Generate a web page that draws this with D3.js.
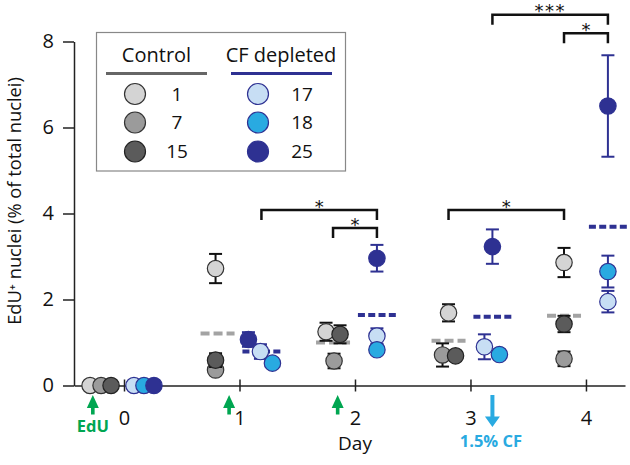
<!DOCTYPE html>
<html>
<head>
<meta charset="utf-8">
<script src="https://cdn.jsdelivr.net/npm/d3@7"></script>
<style>
body { margin: 0; background: #fff; }
svg { display: block; }
text { font-family: "Open Sans", sans-serif; }
</style>
</head>
<body>
<div id="chart"></div>
<script>
/////////////////////////////////////////////////////////////////////
///////////////////////////// data //////////////////////////////////
/////////////////////////////////////////////////////////////////////
var days = [0, 1, 2, 3, 4];
var yTicks = [0, 2, 4, 6, 8];

var controlNames = ["1", "7", "15"];
var cfNames = ["17", "18", "25"];

var ctrl1 = [0, 2.72, 1.25, 1.69, 2.86];
var ctrl1Err = [0, 0.34, 0.21, 0.20, 0.34];
var ctrl7 = [0, 0.36, 0.57, 0.71, 0.62];
var ctrl7Err = [0, 0.05, 0.17, 0.27, 0.17];
var ctrl15 = [0, 0.59, 1.19, 0.69, 1.43];
var ctrl15Err = [0, 0.16, 0.21, 0.08, 0.19];

var cf17 = [0, 0.79, 1.15, 0.90, 1.95];
var cf17Err = [0, 0.17, 0.18, 0.29, 0.25];
var cf18 = [0, 0.52, 0.83, 0.72, 2.65];
var cf18Err = [0, 0.05, 0.05, 0.05, 0.37];
var cf25 = [0, 1.07, 2.96, 3.23, 6.50];
var cf25Err = [0, 0.17, 0.31, 0.40, 1.18];

var ctrlMean = [null, 1.21, 1.00, 1.04, 1.62];
var cfMean = [null, 0.79, 1.64, 1.60, 3.69];

// significance: group/day pairs, bracket level (y units), label
var sigFromGroup = ["cf", "ctrl", "ctrl", "cf", "ctrl"];
var sigFromDay = [1, 2, 3, 3, 4];
var sigToGroup = ["cf", "cf", "ctrl", "cf", "cf"];
var sigToDay = [2, 2, 4, 4, 4];
var sigLevel = [4.08, 3.66, 4.08, 8.62, 8.19];
var sigLabels = ["*", "*", "*", "***", "*"];

// treatment events (days)
var eduDays = [-0.27, 0.91, 1.85];
var cfDay = 3.19;

/////////////////////////////////////////////////////////////////////
///////////////////////////// layout ////////////////////////////////
/////////////////////////////////////////////////////////////////////
var wdim = 630, hdim = 465;
var navy = "#2e3192";
var r = 8.2;
var groupOff = { ctrl: -0.19, cf: 0.19 };
// small horizontal nudges (px) per series per day, so points don't hide each other
var nudge = {
  "1":  [-12, -2, -7,  0, 0],
  "7":  [ -1, -2,  1, -6, 0],
  "15": [  9, -2,  7,  7, 0],
  "17": [-12, -1,  0, -8, 0],
  "18": [ -2, 11,  0,  7, 0],
  "25": [  8,-13,  0,  0, 0]
};

var series = [
  { name: "1",  group: "ctrl", vals: ctrl1,  err: ctrl1Err,  fill: "#d4d4d4", stroke: "#333", bar: "#111" },
  { name: "7",  group: "ctrl", vals: ctrl7,  err: ctrl7Err,  fill: "#9b9b9b", stroke: "#333", bar: "#111" },
  { name: "15", group: "ctrl", vals: ctrl15, err: ctrl15Err, fill: "#5b5b5b", stroke: "#222", bar: "#111" },
  { name: "17", group: "cf",   vals: cf17,   err: cf17Err,   fill: "#c7def4", stroke: navy,   bar: navy },
  { name: "18", group: "cf",   vals: cf18,   err: cf18Err,   fill: "#29aae1", stroke: navy,   bar: navy },
  { name: "25", group: "cf",   vals: cf25,   err: cf25Err,   fill: navy,      stroke: navy,   bar: navy }
];

var x = d3.scaleLinear().domain([-0.433, 4.338]).range([74, 625]);
var y = d3.scaleLinear().domain([0, 8]).range([385.5, 41.5]);

var svg = d3.select("#chart").append("svg")
  .attr("width", wdim)
  .attr("height", hdim);

function groupX(g, d) { return x(d + groupOff[g]); }

/////////////////////////////////////////////////////////////////////
///////////////////////////// axes //////////////////////////////////
/////////////////////////////////////////////////////////////////////
function draw_axes() {
  var ya = svg.append("g")
    .attr("transform", "translate(" + x.range()[0] + ",0)")
    .call(d3.axisLeft(y).tickValues(yTicks).tickFormat(d3.format("d"))
      .tickSize(11).tickSizeOuter(0).tickPadding(9));
  ya.selectAll("text").style("font-size", "20px").attr("fill", "#111");

  var xa = svg.append("g")
    .attr("transform", "translate(0," + y(0) + ")")
    .call(d3.axisBottom(x).tickValues(days).tickFormat(d3.format("d"))
      .tickSize(6).tickSizeOuter(0).tickPadding(19));
  xa.selectAll(".tick line").attr("y1", -6);
  xa.selectAll("text").style("font-size", "20px").attr("fill", "#111");

  svg.selectAll(".domain, .tick line").attr("stroke", "#222").attr("stroke-width", 1.5);

  svg.append("text")
    .attr("transform", "translate(21," + 201 + ") rotate(-90)")
    .attr("text-anchor", "middle")
    .style("font-size", "18.3px")
    .attr("fill", "#111")
    .text("EdU⁺ nuclei (% of total nuclei)");

  svg.append("text")
    .attr("x", x(2))
    .attr("y", 450)
    .attr("text-anchor", "middle")
    .style("font-size", "19px")
    .attr("fill", "#111")
    .text("Day");
}

/////////////////////////////////////////////////////////////////////
///////////////////////////// means /////////////////////////////////
/////////////////////////////////////////////////////////////////////
function draw_means() {
  var defs = [
    { g: "ctrl", vals: ctrlMean, col: "#a3a3a3", w: 34, dash: "9,4" },
    { g: "cf", vals: cfMean, col: navy, w: 38, dash: "7,3.3" }
  ];
  defs.forEach(function(m) {
    svg.selectAll(null)
      .data(days.filter(function(d) { return m.vals[d] != null; }))
      .enter().append("line")
      .attr("x1", function(d) { return groupX(m.g, d) - m.w / 2; })
      .attr("x2", function(d) { return groupX(m.g, d) + m.w / 2; })
      .attr("y1", function(d) { return y(m.vals[d]); })
      .attr("y2", function(d) { return y(m.vals[d]); })
      .attr("stroke", m.col)
      .attr("stroke-width", 4)
      .attr("stroke-dasharray", m.dash);
  });
}

/////////////////////////////////////////////////////////////////////
///////////////////////////// points ////////////////////////////////
/////////////////////////////////////////////////////////////////////
function draw_points() {
  var pts = [];
  series.forEach(function(s) {
    days.forEach(function(d) {
      pts.push({ s: s, day: d, v: s.vals[d], e: s.err[d],
                 px: groupX(s.group, d) + nudge[s.name][d] });
    });
  });
  // left to right so the right-hand circle sits on top
  pts.sort(function(a, b) { return a.px - b.px; });

  var g = svg.selectAll(".pt")
    .data(pts)
    .enter().append("g")
    .attr("class", "pt");

  var withErr = g.filter(function(p) { return p.e > 0; });
  withErr.append("line")
    .attr("x1", function(p) { return p.px; })
    .attr("x2", function(p) { return p.px; })
    .attr("y1", function(p) { return y(p.v - p.e); })
    .attr("y2", function(p) { return y(p.v + p.e); })
    .attr("stroke", function(p) { return p.s.bar; })
    .attr("stroke-width", 2);
  [-1, 1].forEach(function(sg) {
    withErr.append("line")
      .attr("x1", function(p) { return p.px - 6.5; })
      .attr("x2", function(p) { return p.px + 6.5; })
      .attr("y1", function(p) { return y(p.v + sg * p.e); })
      .attr("y2", function(p) { return y(p.v + sg * p.e); })
      .attr("stroke", function(p) { return p.s.bar; })
      .attr("stroke-width", 2);
  });

  g.append("circle")
    .attr("cx", function(p) { return p.px; })
    .attr("cy", function(p) { return y(p.v); })
    .attr("r", r)
    .attr("fill", function(p) { return p.s.fill; })
    .attr("stroke", function(p) { return p.s.stroke; })
    .attr("stroke-width", 1.2);
}

/////////////////////////////////////////////////////////////////////
///////////////////////////// brackets //////////////////////////////
/////////////////////////////////////////////////////////////////////
function draw_sig() {
  sigLabels.forEach(function(lab, i) {
    var x1 = groupX(sigFromGroup[i], sigFromDay[i]);
    var x2 = groupX(sigToGroup[i], sigToDay[i]);
    var yy = y(sigLevel[i]);
    svg.append("path")
      .attr("d", "M" + x1 + "," + (yy + 10) + "V" + yy + "H" + x2 + "V" + (yy + 10))
      .attr("fill", "none")
      .attr("stroke", "#111")
      .attr("stroke-width", 2.5);
    svg.append("text")
      .attr("x", (x1 + x2) / 2)
      .attr("y", yy + 2.5)
      .attr("text-anchor", "middle")
      .style("font-family", "'DejaVu Sans', sans-serif")
      .style("font-size", "18px")
      .style("letter-spacing", lab.length > 1 ? "1.5px" : "0px")
      .attr("fill", "#111")
      .text(lab);
  });
}

/////////////////////////////////////////////////////////////////////
///////////////////////////// events ////////////////////////////////
/////////////////////////////////////////////////////////////////////
function draw_events() {
  var green = "#00a651", sky = "#29aae1";
  eduDays.forEach(function(d) {
    var ax = x(d), tip = 395;
    // up arrow: head 13 tall, shaft to y=414
    svg.append("path")
      .attr("d", "M" + ax + "," + tip + "l-6,13h4.2v6.5h3.6v-6.5h4.2z")
      .attr("fill", green);
  });
  svg.append("text")
    .attr("x", x(eduDays[0]))
    .attr("y", 432)
    .attr("text-anchor", "middle")
    .style("font-size", "16.5px")
    .style("font-weight", "bold")
    .attr("fill", green)
    .text("EdU");

  var cx = x(cfDay);
  svg.append("path")
    .attr("d", "M" + cx + ",427l-7.5,-10.5h5.5v-21.5h4v21.5h5.5z")
    .attr("fill", sky);
  svg.append("text")
    .attr("x", cx - 1.5)
    .attr("y", 447)
    .attr("text-anchor", "middle")
    .style("font-size", "16.5px")
    .style("font-weight", "bold")
    .attr("fill", sky)
    .text("1.5% CF");
}

/////////////////////////////////////////////////////////////////////
///////////////////////////// legend ////////////////////////////////
/////////////////////////////////////////////////////////////////////
function draw_legend() {
  var lg = svg.append("g");
  lg.append("rect")
    .attr("x", 96.5).attr("y", 32.5)
    .attr("width", 249).attr("height", 138.5)
    .attr("fill", "#fff")
    .attr("stroke", "#888")
    .attr("stroke-width", 1.2);

  var cols = [
    { title: "Control", tx: 156.5, lx1: 106, lx2: 207, line: "#666", names: controlNames, cx: 135, nx: 177 },
    { title: "CF depleted", tx: 281, lx1: 231, lx2: 332, line: navy, names: cfNames, cx: 258, nx: 302 }
  ];
  var rows = [94, 122.5, 151.5];
  cols.forEach(function(c) {
    lg.append("text")
      .attr("x", c.tx).attr("y", 61.5)
      .attr("text-anchor", "middle")
      .style("font-size", "20px")
      .attr("fill", "#111")
      .text(c.title);
    lg.append("line")
      .attr("x1", c.lx1).attr("x2", c.lx2)
      .attr("y1", 73.5).attr("y2", 73.5)
      .attr("stroke", c.line)
      .attr("stroke-width", 3);
    c.names.forEach(function(n, i) {
      var s = series.filter(function(q) { return q.name == n; })[0];
      lg.append("circle")
        .attr("cx", c.cx).attr("cy", rows[i]).attr("r", 10.5)
        .attr("fill", s.fill)
        .attr("stroke", s.stroke)
        .attr("stroke-width", 1.2);
      lg.append("text")
        .attr("x", c.nx).attr("y", rows[i] + 6.8)
        .attr("text-anchor", "middle")
        .style("font-size", "19px")
        .attr("fill", "#111")
        .text(n);
    });
  });
}

function main() {
  draw_axes();
  draw_means();
  draw_points();
  draw_sig();
  draw_events();
  draw_legend();
}
main();
</script>
</body>
</html>
